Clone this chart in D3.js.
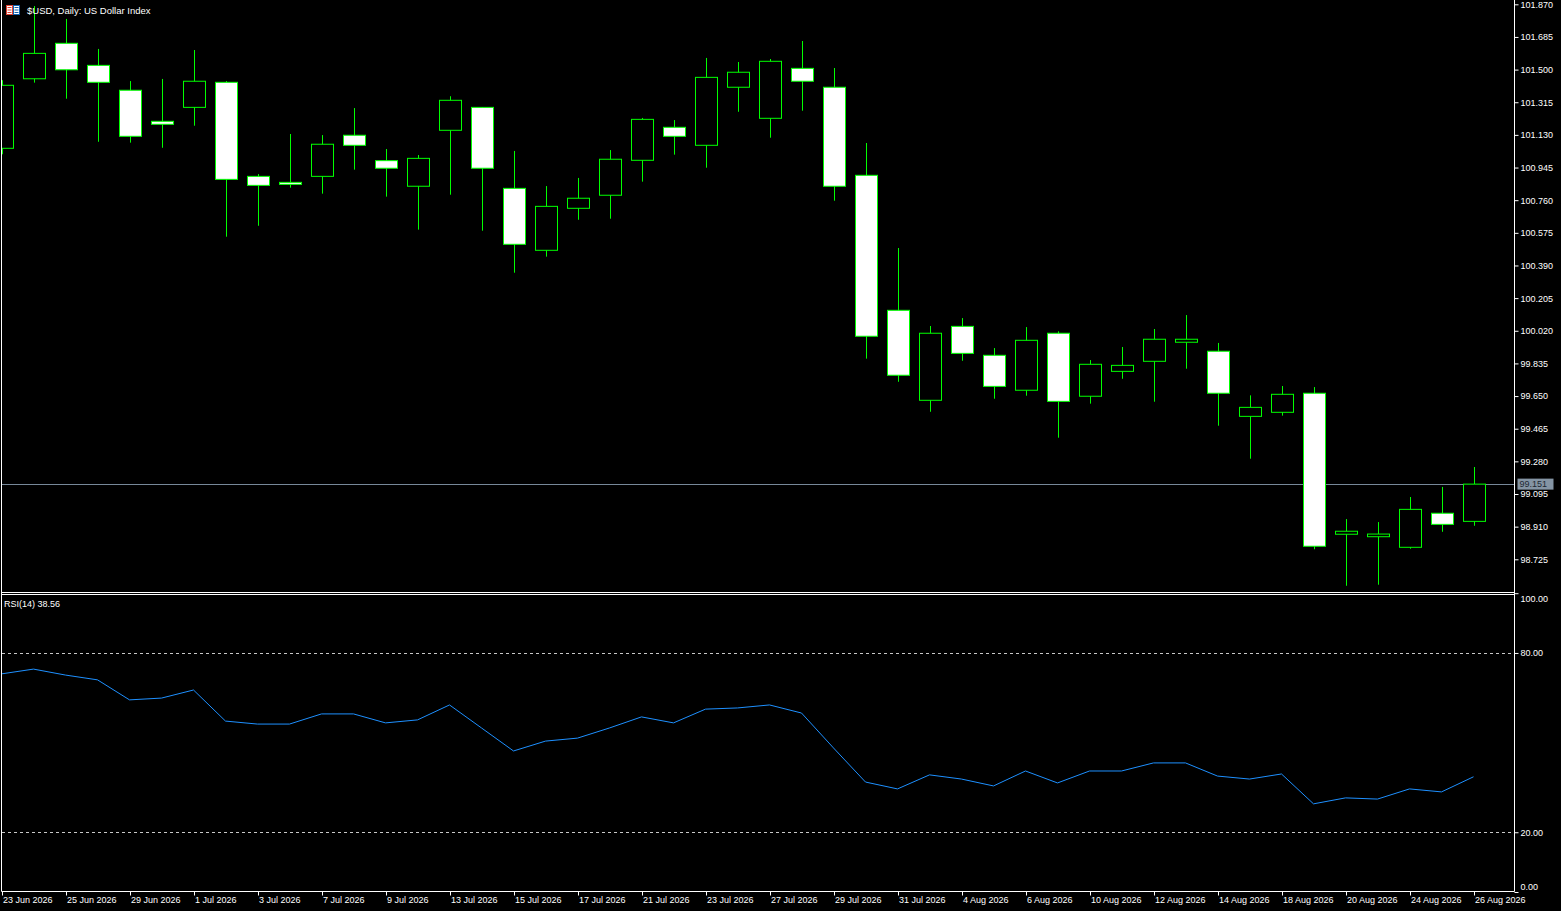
<!DOCTYPE html>
<html>
<head>
<meta charset="utf-8">
<script src="https://cdn.jsdelivr.net/npm/d3@7/dist/d3.min.js"></script>
<style>
html,body{margin:0;padding:0;background:#000;overflow:hidden;}
svg{display:block;}
text{font-family:"Liberation Sans",Arial,sans-serif;}
</style>
</head>
<body>
<svg id="chart" width="1561" height="911"></svg>
<script>
const dates = ["23 Jun 2026","24 Jun 2026","25 Jun 2026","26 Jun 2026","29 Jun 2026","30 Jun 2026",
"1 Jul 2026","2 Jul 2026","3 Jul 2026","6 Jul 2026","7 Jul 2026","8 Jul 2026","9 Jul 2026","10 Jul 2026",
"13 Jul 2026","14 Jul 2026","15 Jul 2026","16 Jul 2026","17 Jul 2026","20 Jul 2026","21 Jul 2026","22 Jul 2026",
"23 Jul 2026","24 Jul 2026","27 Jul 2026","28 Jul 2026","29 Jul 2026","30 Jul 2026","31 Jul 2026",
"3 Aug 2026","4 Aug 2026","5 Aug 2026","6 Aug 2026","7 Aug 2026","10 Aug 2026","11 Aug 2026","12 Aug 2026",
"13 Aug 2026","14 Aug 2026","17 Aug 2026","18 Aug 2026","19 Aug 2026","20 Aug 2026","21 Aug 2026",
"24 Aug 2026","25 Aug 2026","26 Aug 2026"];
const opens  = [101.054,101.448,101.649,101.524,101.383,101.207,101.286,101.428,100.895,100.861,100.895,101.128,100.984,100.839,
101.156,101.286,100.827,100.476,100.714,100.788,100.986,101.173,101.071,101.400,101.224,101.507,101.400,100.901,100.136,
99.626,100.045,99.881,99.683,100.006,99.649,99.790,99.847,99.955,99.904,99.535,99.558,99.666,98.867,98.853,98.793,98.986,98.940];
const highs  = [101.440,101.860,101.787,101.617,101.435,101.447,101.611,101.435,100.908,101.135,101.129,101.282,101.050,101.016,
101.349,101.288,101.039,100.840,100.886,101.044,101.226,101.214,101.566,101.543,101.560,101.662,101.509,101.084,100.489,
100.047,100.092,99.922,100.041,100.017,99.854,99.928,100.030,100.109,99.951,99.654,99.707,99.701,98.953,98.936,99.078,99.135,99.248];
const lows   = [101.020,101.426,101.335,101.091,101.086,101.057,101.182,100.553,100.615,100.831,100.797,100.933,100.780,100.593,
100.791,100.587,100.349,100.440,100.649,100.655,100.865,101.018,100.944,101.261,101.114,101.267,100.757,99.862,99.731,
99.561,99.850,99.635,99.652,99.414,99.607,99.748,99.618,99.805,99.482,99.295,99.539,98.782,98.575,98.581,98.785,98.881,98.915];
const closes = [101.411,101.592,101.499,101.428,101.122,101.190,101.434,100.878,100.844,100.850,101.077,101.071,100.941,100.997,
101.326,100.941,100.510,100.725,100.771,100.992,101.218,101.122,101.456,101.485,101.547,101.434,100.839,99.989,99.768,
100.006,99.892,99.705,99.966,99.620,99.830,99.824,99.972,99.972,99.666,99.586,99.660,98.799,98.884,98.868,99.008,98.923,99.151];
const rsi = [73.0,74.6,72.6,71.0,64.3,64.9,67.6,57.2,56.2,56.2,59.6,59.6,56.6,57.6,62.6,54.9,47.2,50.5,51.5,54.9,58.6,56.6,
61.2,61.6,62.6,59.9,48.2,36.8,34.5,39.2,37.8,35.5,40.5,36.5,40.5,40.5,43.2,43.2,38.8,37.8,39.5,29.5,31.5,31.1,34.5,33.5,38.56];
const priceTicks = [101.870,101.685,101.500,101.315,101.130,100.945,100.760,100.575,100.390,100.205,100.020,99.835,99.650,99.465,99.280,99.095,98.910,98.725];
const rsiTicks = [100,80,20,0];
const rsiLevels = [80,20];
const lastPrice = 99.151;
const title = "$USD, Daily:  US Dollar Index";
const rsiTitle = "RSI(14) 38.56";

const svg = d3.select("#chart");
const W = 1561, H = 911;
const axisX = 1514.5, leftX = 1.5;
const mainTop = 0, mainBottom = 592.5, rsiTop = 594.5, rsiBottom = 891.5;

const x = d3.scalePoint().domain(dates).range([1.5, 1.5 + 32 * (dates.length - 1)]);
const y = d3.scaleLinear().domain([98.725, 101.870]).range([559.3, 4.3]);
const yr = d3.scaleLinear().domain([0, 100]).range([892, 593.2]);

svg.append("rect").attr("width", W).attr("height", H).attr("fill", "#000");

const defs = svg.append("defs");
defs.append("clipPath").attr("id","mainClip").append("rect")
  .attr("x", 2).attr("y", 0).attr("width", axisX - 2).attr("height", mainBottom - 0.5);
defs.append("clipPath").attr("id","rsiClip").append("rect")
  .attr("x", 2).attr("y", rsiTop + 0.5).attr("width", axisX - 2).attr("height", rsiBottom - rsiTop - 1);

// Main panel
const gMain = svg.append("g").attr("clip-path","url(#mainClip)");
const bars = dates.map((d,i)=>({d, o:opens[i], h:highs[i], l:lows[i], c:closes[i]}));

// price line
gMain.append("line").attr("x1",0).attr("x2",axisX).attr("y1",Math.round(y(lastPrice))+0.5).attr("y2",Math.round(y(lastPrice))+0.5)
  .attr("stroke","#778899").attr("stroke-width",1);

const bw = 22;
gMain.selectAll("line.wick").data(bars).enter().append("line")
  .attr("class","wick")
  .attr("x1", b=>Math.round(x(b.d))+0.5).attr("x2", b=>Math.round(x(b.d))+0.5)
  .attr("y1", b=>y(b.h)).attr("y2", b=>y(b.l))
  .attr("stroke","#00ff00").attr("stroke-width",1);
gMain.selectAll("rect.body").data(bars).enter().append("rect")
  .attr("class","body")
  .attr("x", b=>Math.round(x(b.d)) - bw/2 + 0.5)
  .attr("y", b=>y(Math.max(b.o,b.c)))
  .attr("width", bw)
  .attr("height", b=>Math.max(2, Math.abs(y(b.o)-y(b.c))))
  .attr("fill", b=> b.c >= b.o ? "#000" : "#fff")
  .attr("stroke","#00ff00").attr("stroke-width",1);

// RSI panel
const gRsi = svg.append("g").attr("clip-path","url(#rsiClip)");
rsiLevels.forEach(v=>{
  gRsi.append("line").attr("x1",2).attr("x2",axisX).attr("y1",Math.round(yr(v))+0.5).attr("y2",Math.round(yr(v))+0.5)
    .attr("stroke","#c8c8c8").attr("stroke-width",1).attr("stroke-dasharray","3,3");
});
gRsi.append("path").datum(rsi)
  .attr("d", d3.line().x((v,i)=>x(dates[i])).y(v=>yr(v)))
  .attr("fill","none").attr("stroke","#1e90ff").attr("stroke-width",1);

// Frames
const frame = svg.append("g").attr("stroke","#fff").attr("stroke-width",1).attr("fill","none");
frame.append("line").attr("x1",leftX).attr("x2",leftX).attr("y1",0).attr("y2",rsiBottom);
frame.append("line").attr("x1",axisX).attr("x2",axisX).attr("y1",0).attr("y2",rsiBottom);
frame.append("line").attr("x1",leftX).attr("x2",axisX).attr("y1",mainBottom).attr("y2",mainBottom);
frame.append("line").attr("x1",leftX).attr("x2",axisX).attr("y1",rsiTop).attr("y2",rsiTop);
frame.append("line").attr("x1",leftX).attr("x2",axisX).attr("y1",rsiBottom).attr("y2",rsiBottom);

// Price axis
const pAxis = svg.append("g").attr("transform",`translate(${axisX},0)`)
  .call(d3.axisRight(y).tickValues(priceTicks).tickFormat(d3.format(".3f")).tickSize(4).tickPadding(2));
pAxis.select(".domain").remove();
pAxis.selectAll(".tick line").attr("stroke","#fff");
pAxis.selectAll(".tick text").attr("fill","#fff").style("font-size","9px").style("font-family","Liberation Sans, Arial, sans-serif");

// Current price label
const ly = y(lastPrice);
svg.append("rect").attr("x",axisX+3).attr("y",ly-5.5).attr("width",36).attr("height",11).attr("fill","#8494a4");
svg.append("text").attr("x",axisX+5).attr("y",ly).attr("dy","0.35em").attr("fill","#1e2833")
  .style("font-size","9px").text(d3.format(".3f")(lastPrice));

// RSI axis
const rAxis = svg.append("g").attr("transform",`translate(${axisX},0)`)
  .call(d3.axisRight(yr).tickValues(rsiTicks).tickFormat(d3.format(".2f")).tickSize(4).tickPadding(2));
rAxis.select(".domain").remove();
rAxis.selectAll(".tick line").attr("stroke","#fff");
rAxis.selectAll(".tick text").attr("fill","#fff").style("font-size","9px").style("font-family","Liberation Sans, Arial, sans-serif")
  .attr("dy", d => d===100 ? "0.9em" : (d===0 ? "-0.25em" : "0.32em"));

// Bottom axis
const tickDates = dates.filter((d,i)=>i%2===0);
const bAxis = svg.append("g").attr("transform",`translate(0,${rsiBottom})`)
  .call(d3.axisBottom(x).tickValues(tickDates).tickSize(4).tickPadding(2));
bAxis.select(".domain").remove();
bAxis.selectAll(".tick line").attr("stroke","#fff").attr("transform","translate(0.5,0)");
bAxis.selectAll(".tick text").attr("fill","#fff").style("font-size","9px")
  .style("font-family","Liberation Sans, Arial, sans-serif")
  .attr("text-anchor","start").attr("x",1).attr("y",4).attr("dy","0.85em");

// Title and icon
const icon = svg.append("g").attr("transform","translate(6,5)");
icon.append("rect").attr("x",0.5).attr("y",0.5).attr("width",6).attr("height",9).attr("fill","#fff").attr("stroke","#e04030");
icon.append("rect").attr("x",7.5).attr("y",0.5).attr("width",6).attr("height",9).attr("fill","#fff").attr("stroke","#1060b0");
[2.5,5,7.5].forEach(v=>{
  icon.append("line").attr("x1",1.5).attr("x2",5.5).attr("y1",v).attr("y2",v).attr("stroke","#e04030");
  icon.append("line").attr("x1",8.5).attr("x2",12.5).attr("y1",v).attr("y2",v).attr("stroke","#1060b0");
});
svg.append("text").attr("x",27).attr("y",10.7).attr("dy","0.35em").attr("fill","#fff")
  .style("font-size","9.5px").text(title);
svg.append("text").attr("x",4).attr("y",604).attr("dy","0.35em").attr("fill","#fff")
  .style("font-size","9px").text(rsiTitle);
</script>
</body>
</html>
